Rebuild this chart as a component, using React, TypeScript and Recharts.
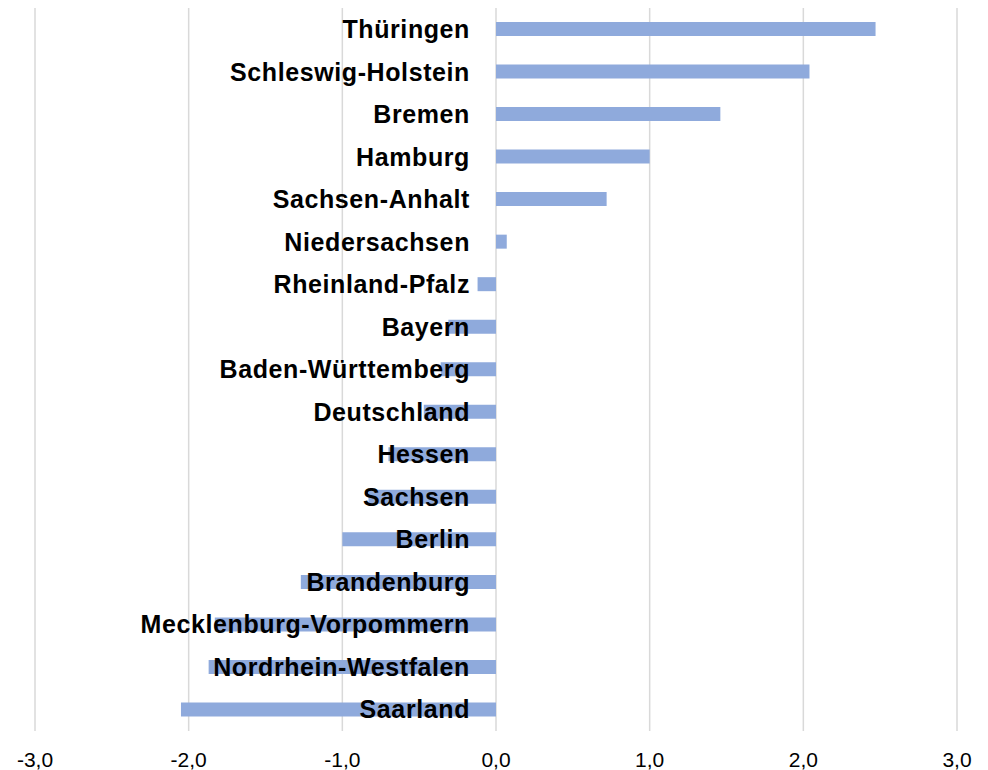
import { BarChart, Bar, XAxis, YAxis, CartesianGrid, LabelList } from "recharts";

// Bundesländer, top to bottom
const laender = [
  "Thüringen",
  "Schleswig-Holstein",
  "Bremen",
  "Hamburg",
  "Sachsen-Anhalt",
  "Niedersachsen",
  "Rheinland-Pfalz",
  "Bayern",
  "Baden-Württemberg",
  "Deutschland",
  "Hessen",
  "Sachsen",
  "Berlin",
  "Brandenburg",
  "Mecklenburg-Vorpommern",
  "Nordrhein-Westfalen",
  "Saarland",
];

const werte = [
  2.47, 2.04, 1.46, 1.0, 0.72, 0.07, -0.12, -0.31, -0.36, -0.47, -0.7,
  -0.83, -1.0, -1.27, -1.83, -1.87, -2.05,
];

const xTicks = [-3, -2, -1, 0, 1, 2, 3];

const data = laender.map((name, i) => ({ name, value: werte[i] }));

const LandLabel = (props: any) => {
  const { x, y, width, height, index } = props;
  const v = werte[index];
  const a = Number(x);
  const b = Number(x) + Number(width);
  // the zero line is the bar's base edge
  const zero = v >= 0 ? Math.min(a, b) : Math.max(a, b);
  return (
    <text
      x={zero - 26}
      y={Number(y) + Number(height) / 2}
      dy={9}
      textAnchor="end"
      fontFamily="'Liberation Sans', Arial, sans-serif"
      fontWeight="bold"
      fontSize={25}
      letterSpacing={0.6}
      fill="#000"
    >
      {laender[index]}
    </text>
  );
};

export default function App() {
  return (
    <BarChart
      width={980}
      height={762}
      data={data}
      layout="vertical"
      margin={{ top: 0, right: 31, bottom: 0, left: 27 }}
      barSize={14}
    >
      <CartesianGrid horizontal={false} stroke="#d9d9d9" strokeWidth={1.5} />
      <XAxis
        type="number"
        domain={[-3, 3]}
        ticks={xTicks}
        axisLine={false}
        tickLine={false}
        height={39}
        tickMargin={15}
        tickFormatter={(v: number) => v.toFixed(1).replace(".", ",")}
        tick={{
          fill: "#000",
          fontSize: 21,
          fontFamily: "'Liberation Sans', Arial, sans-serif",
        }}
      />
      <YAxis type="category" dataKey="name" hide />
      <Bar dataKey="value" fill="#8faadc" isAnimationActive={false}>
        <LabelList dataKey="name" content={<LandLabel />} />
      </Bar>
    </BarChart>
  );
}
